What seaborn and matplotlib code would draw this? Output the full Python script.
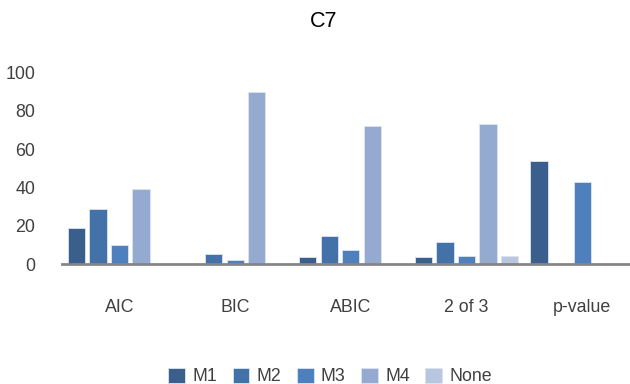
import matplotlib
matplotlib.use("Agg")
import matplotlib.pyplot as plt
import seaborn as sns
import pandas as pd

categories = ["AIC", "BIC", "ABIC", "2 of 3", "p-value"]
models = ["M1", "M2", "M3", "M4", "None"]
m1 = [19, 0, 4, 4, 54]
m2 = [29, 5.5, 14.5, 11.5, 0]
m3 = [10, 2, 7.5, 4.5, 43]
m4 = [39, 90, 72, 73, 0]
none = [0, 0, 0, 4.3, 0]
palette = ["#3B5F8D", "#4372A8", "#4E80BD", "#95AAD0", "#B9C6E0"]

rows = []
for name, vals in zip(models, [m1, m2, m3, m4, none]):
    for cat, v in zip(categories, vals):
        rows.append({"test": cat, "model": name, "pct": v})
df = pd.DataFrame(rows)

sns.set_theme(style="white")
plt.rcParams["font.family"] = ["Liberation Sans", "DejaVu Sans"]
text_color = "#404040"
fs = 12.8

fig = plt.figure(figsize=(6.3, 3.84), dpi=100)
ax = fig.add_axes([0.0978, 0.3117, 0.918, 0.5])

sns.barplot(data=df, x="test", y="pct", hue="model", order=categories,
            hue_order=models, palette=palette, width=0.93, gap=0.2,
            edgecolor="#dde4ef", linewidth=0.6, saturation=1, ax=ax,
            legend=True)

ax.set_xlim(-0.5, 4.5)
ax.set_ylim(0, 100)
ax.set_yticks([0, 20, 40, 60, 80, 100])
ax.set_xlabel("")
ax.set_ylabel("")
for s in ["top", "right", "left"]:
    ax.spines[s].set_visible(False)
ax.spines["bottom"].set_color("#868686")
ax.spines["bottom"].set_linewidth(2)
ax.tick_params(axis="y", length=0, pad=19, labelsize=fs, labelcolor=text_color)
ax.tick_params(axis="x", length=0, pad=25, labelsize=fs, labelcolor=text_color)

handles, labels = ax.get_legend_handles_labels()
ax.get_legend().remove()
fig.legend(handles, labels, loc="lower center", bbox_to_anchor=(0.524, -0.045),
           ncol=5, frameon=False, fontsize=fs, handlelength=0.95,
           handleheight=0.95, handletextpad=0.4, columnspacing=0.87,
           labelcolor=text_color)

fig.text(0.514, 0.945, "C7", ha="center", va="center", fontsize=15.5, color="#000000")

fig.savefig("out.png", dpi=100)
